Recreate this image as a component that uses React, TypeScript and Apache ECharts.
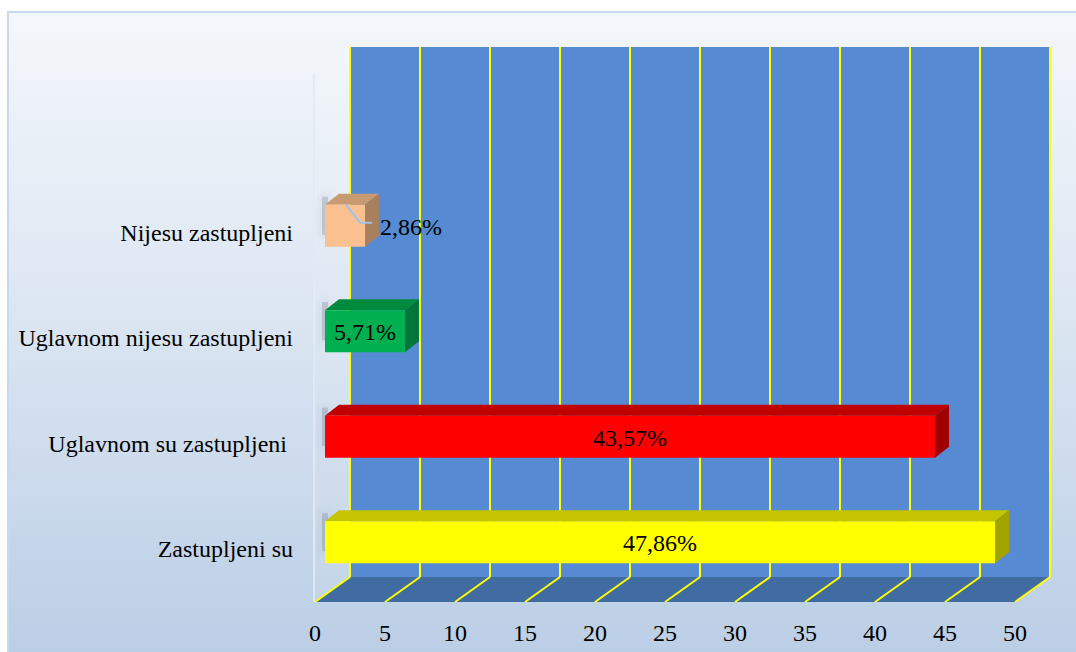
import React, { useEffect, useRef } from "react";
import * as echarts from "echarts";

const CATEGORIES = ["Zastupljeni su", "Uglavnom su zastupljeni ", "Uglavnom nijesu zastupljeni", "Nijesu zastupljeni"];
const VALUES = [47.86, 43.57, 5.71, 2.86];
const VALUE_LABELS = ["47,86%", "43,57%", "5,71%", "2,86%"];
const LABEL_OUTSIDE = [false, false, false, true];
const FRONT_COLORS = ["#FFFF00", "#FF0000", "#00B050", "#FAC090"];
const TOP_COLORS = ["#C4C400", "#C00000", "#008A3E", "#C89A72"];
const SIDE_COLORS = ["#A3A300", "#A00000", "#00763A", "#A8805E"];
const TICKS = [0, 5, 10, 15, 20, 25, 30, 35, 40, 45, 50];

const FONT = '"Liberation Serif", "Times New Roman", serif';
const FONT_SIZE = 24;
const W = 1076;
const H = 652;
// depth offsets (px) of the back wall and bars
const WALL_DX = 35;
const WALL_DY = -25;
const BAR_OX = 10;
const BAR_OY = -7;
const BAR_DX = 14;
const BAR_DY = -11;

export default function App() {
  const ref = useRef<HTMLDivElement>(null);
  useEffect(() => {
    if (!ref.current) return;
    const chart = echarts.init(ref.current, null, { renderer: "svg" });
    const option: any = {
      animation: false,
      graphic: [
        {
          type: "rect",
          z: -10,
          shape: { x: 8, y: 12, width: 1080, height: 660 },
          style: {
            fill: new echarts.graphic.LinearGradient(0, 0, 0, 1, [
              { offset: 0, color: "#F4F7FB" },
              { offset: 0.45, color: "#DCE6F2" },
              { offset: 1, color: "#B9CDE5" },
            ]),
            stroke: "#C6D9F1",
            lineWidth: 2,
          },
        },
      ],
      grid: [
        { left: 315, right: 61, top: 180, bottom: 50, containLabel: false },
        {
          left: 315 + WALL_DX,
          right: 61 - WALL_DX,
          top: 47,
          bottom: 50 - WALL_DY,
          show: true,
          backgroundColor: "#568BD4",
          borderWidth: 0,
        },
      ],
      xAxis: [
        {
          type: "value",
          gridIndex: 0,
          min: 0,
          max: 50,
          interval: 5,
          axisLine: { show: false },
          axisTick: { show: false },
          splitLine: { show: false },
          axisLabel: { fontFamily: FONT, fontSize: FONT_SIZE, color: "#000", margin: 19 },
        },
        {
          type: "value",
          gridIndex: 1,
          min: 0,
          max: 50,
          interval: 5,
          axisLine: { show: false },
          axisTick: { show: false },
          axisLabel: { show: false },
          splitLine: { show: true, lineStyle: { color: "#FFFF00", width: 2 } },
        },
      ],
      yAxis: [
        {
          type: "category",
          gridIndex: 0,
          data: CATEGORIES,
          axisLine: { show: false },
          axisTick: { show: false },
          splitLine: { show: false },
          axisLabel: { fontFamily: FONT, fontSize: FONT_SIZE, color: "#000", margin: 22 },
        },
        {
          type: "category",
          gridIndex: 1,
          data: CATEGORIES,
          show: false,
        },
      ],
      series: [
        {
          type: "custom",
          name: "floor",
          xAxisIndex: 0,
          yAxisIndex: 0,
          z: 1,
          silent: true,
          data: [[0, 0]],
          renderItem: (params: any, api: any) => {
            const cs = params.coordSys;
            const b = cs.y + cs.height;
            const l = cs.x;
            const r = cs.x + cs.width;
            return {
              type: "group",
              children: [
                {
                  type: "polygon",
                  shape: {
                    points: [
                      [l, b],
                      [r, b],
                      [r + WALL_DX, b + WALL_DY],
                      [l + WALL_DX, b + WALL_DY],
                    ],
                  },
                  style: { fill: "#416CA2" },
                },
                {
                  type: "polygon",
                  shape: {
                    points: [
                      [l, b],
                      [l + WALL_DX, b + WALL_DY],
                      [l + WALL_DX, 47],
                      [l, 47 - WALL_DY],
                    ],
                  },
                  style: { fill: "rgba(255,255,255,0.08)" },
                },
                {
                  type: "line",
                  shape: { x1: l - 1, y1: 47 - WALL_DY + 2, x2: l - 1, y2: b },
                  style: { stroke: "rgba(225,234,245,0.9)", lineWidth: 2 },
                },
              ],
            };
          },
        },
        {
          type: "custom",
          name: "floorLines",
          xAxisIndex: 0,
          yAxisIndex: 0,
          z: 2,
          silent: true,
          data: TICKS.map((t) => [t, 0]),
          renderItem: (params: any, api: any) => {
            const cs = params.coordSys;
            const b = cs.y + cs.height;
            const p = api.coord([api.value(0), 0]);
            return {
              type: "line",
              shape: { x1: p[0], y1: b, x2: p[0] + WALL_DX, y2: b + WALL_DY },
              style: { stroke: "#FFFF00", lineWidth: 2 },
            };
          },
        },
        {
          type: "custom",
          name: "bars",
          xAxisIndex: 0,
          yAxisIndex: 0,
          z: 5,
          data: VALUES.map((v, i) => [v, i]),
          encode: { x: 0, y: 1 },
          renderItem: (params: any, api: any) => {
            const v = api.value(0);
            const c = api.value(1);
            const i = params.dataIndex;
            const s = api.coord([0, c]);
            const e = api.coord([v, c]);
            const band = api.size([0, 1])[1];
            const h = band * 0.4;
            const x = s[0] + BAR_OX;
            const y = s[1] - h / 2 + BAR_OY;
            const w = e[0] - s[0];
            const children: any[] = [
              {
                type: "rect",
                shape: { x: x - 3, y: y - 8, width: 6, height: h - 4 },
                style: { fill: "rgba(80,90,110,0.22)", shadowBlur: 10, shadowColor: "rgba(70,80,100,0.7)" },
              },
              {
                type: "polygon",
                shape: { points: [[x, y], [x + BAR_DX, y + BAR_DY], [x + w + BAR_DX, y + BAR_DY], [x + w, y]] },
                style: { fill: TOP_COLORS[i] },
              },
              {
                type: "polygon",
                shape: {
                  points: [
                    [x + w, y],
                    [x + w + BAR_DX, y + BAR_DY],
                    [x + w + BAR_DX, y + h + BAR_DY],
                    [x + w, y + h],
                  ],
                },
                style: { fill: SIDE_COLORS[i] },
              },
              {
                type: "rect",
                shape: { x, y, width: w, height: h },
                style: { fill: FRONT_COLORS[i] },
              },
            ];
            if (LABEL_OUTSIDE[i]) {
              children.push({
                type: "polyline",
                shape: { points: [[x + 21, y], [x + 35, y + 18], [x + 47, y + 18]] },
                style: { stroke: "#9DC3E6", lineWidth: 2, fill: null },
              });
              children.push({
                type: "text",
                style: {
                  text: VALUE_LABELS[i],
                  x: x + w + 15,
                  y: y + h / 2 + 1,
                  textAlign: "left",
                  textVerticalAlign: "middle",
                  fill: "#000",
                  font: `${FONT_SIZE}px ${FONT}`,
                },
              });
            } else {
              children.push({
                type: "text",
                style: {
                  text: VALUE_LABELS[i],
                  x: x + w / 2,
                  y: y + h / 2 + 1,
                  textAlign: "center",
                  textVerticalAlign: "middle",
                  fill: "#000",
                  font: `${FONT_SIZE}px ${FONT}`,
                },
              });
            }
            return { type: "group", children };
          },
        },
      ],
    };
    chart.setOption(option);
    return () => chart.dispose();
  }, []);
  return (
    <div
      ref={ref}
      style={{ position: "fixed", left: 0, top: 0, width: W, height: H, background: "#fff" }}
    />
  );
}
